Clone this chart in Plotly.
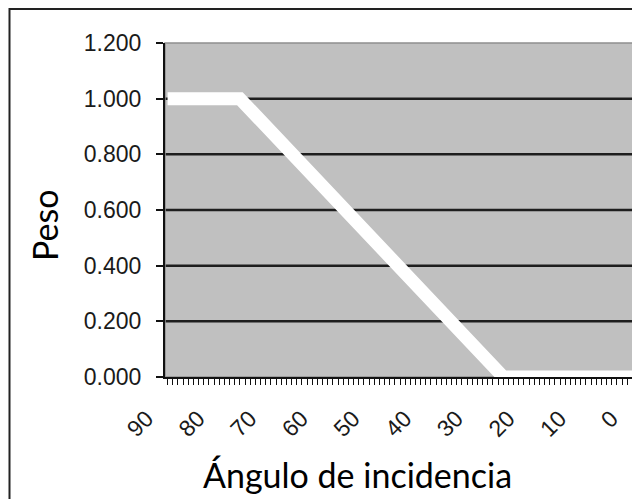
import plotly.graph_objects as go

# Data
angulo = [90, 76, 25, 0]          # Ángulo de incidencia (degrees)
peso = [1.0, 1.0, 0.0, 0.0]       # Peso
x_ticks = [90, 80, 70, 60, 50, 40, 30, 20, 10, 0]
y_ticks = [0.0, 0.2, 0.4, 0.6, 0.8, 1.0, 1.2]
y_grid = [0.2, 0.4, 0.6, 0.8, 1.0]

W, H = 640, 499
OFF = 8  # page body margin
ML, MT = 165 - OFF, 43 - OFF
MR = W - (635 - OFF)
MB = H - (377 - OFF)
PW, PH = W - ML - MR, H - MT - MB


def px_x(p):
    return (p - OFF - ML) / PW


def px_y(p):
    return (H - MB - (p - OFF)) / PH


fig = go.Figure()
fig.add_trace(go.Scatter(
    x=angulo, y=peso, mode="lines",
    line=dict(color="white", width=13),
    hoverinfo="skip", showlegend=False,
))

shapes = []
for g in y_grid:
    shapes.append(dict(type="line", xref="paper", yref="y", x0=0, x1=1, y0=g, y1=g,
                       line=dict(color="#1e1e1e", width=2.5), layer="below"))
# plot area border (right/top)
shapes.append(dict(type="rect", xref="paper", yref="paper", x0=0, x1=1, y0=0, y1=1,
                   line=dict(color="#8f8f8f", width=1.5), layer="below"))
# outer chart border
shapes.append(dict(type="rect", xref="paper", yref="paper",
                   x0=px_x(9.5), x1=px_x(700), y0=px_y(560), y1=px_y(9),
                   line=dict(color="#222222", width=2), layer="above"))

tick_font = dict(family="Liberation Sans, Arial, sans-serif", size=23, color="#1a1a1a")
title_font = dict(family="Lato, Calibri, sans-serif", size=34, color="#000000")

fig.update_layout(
    template="none",
    width=W, height=H,
    margin=dict(l=ML, r=MR, t=MT, b=MB, pad=0, autoexpand=False),
    paper_bgcolor="white",
    plot_bgcolor="#c0c0c0",
    shapes=shapes,
    xaxis=dict(
        range=[90.5, -0.5], automargin=False,
        tickmode="array", tickvals=x_ticks, ticktext=[str(v) for v in x_ticks],
        tickangle=-45, tickfont=tick_font,
        ticks="outside", ticklen=6, tickwidth=1, tickcolor="#111111",
        minor=dict(dtick=1, tick0=0, ticks="outside", ticklen=6, tickwidth=1,
                   tickcolor="#111111", showgrid=False),
        showgrid=False, zeroline=False,
        showline=True, linecolor="#111111", linewidth=2,
        layer="below traces",
        ticklabeloverflow="allow",
        ticklabelshift=21,
        ticklabelstandoff=11,
    ),
    yaxis=dict(
        range=[0, 1.2], automargin=False,
        tickmode="array", tickvals=y_ticks, ticktext=["%.3f" % v for v in y_ticks],
        tickfont=tick_font,
        ticks="outside", ticklen=7, tickwidth=2, tickcolor="#111111",
        ticklabelstandoff=10,
        showgrid=False, zeroline=False,
        showline=True, linecolor="#111111", linewidth=2,
        layer="below traces",
    ),
    annotations=[
        dict(text="Ángulo de incidencia", xref="paper", yref="paper",
             x=px_x(357), y=px_y(474), xanchor="center", yanchor="middle",
             showarrow=False, font=title_font),
        dict(text="Peso", xref="paper", yref="paper",
             x=px_x(45), y=px_y(226), xanchor="center", yanchor="middle",
             textangle=-90, showarrow=False, font=title_font),
    ],
)

fig.write_html("out.html")
